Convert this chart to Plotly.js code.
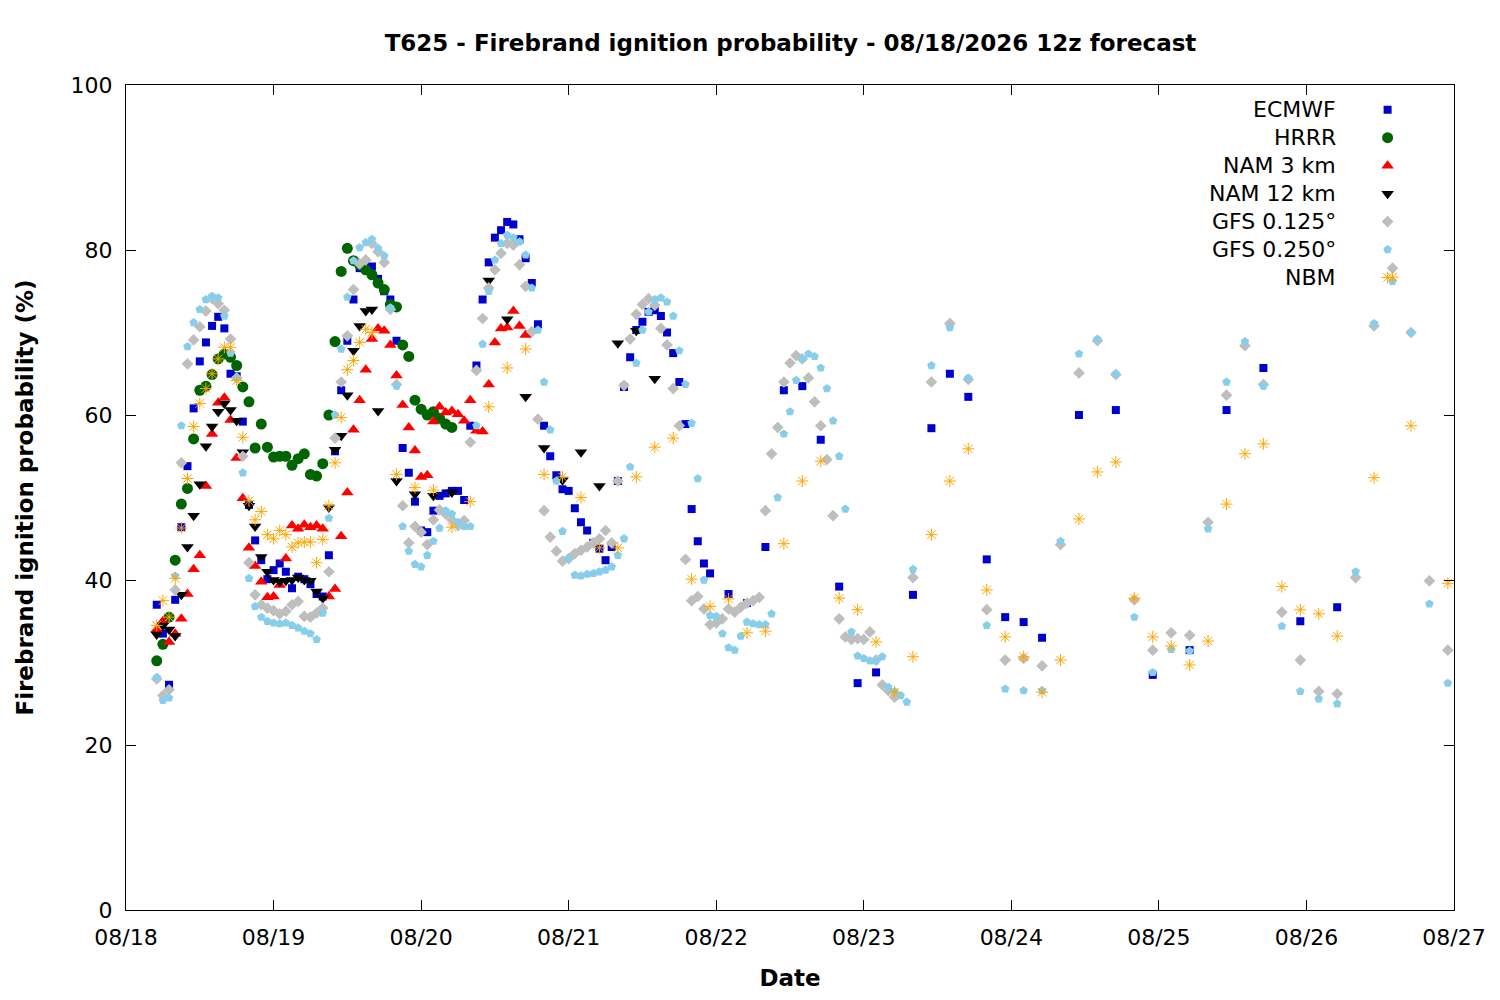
<!DOCTYPE html>
<html>
<head>
<meta charset="utf-8">
<script src="https://cdn.plot.ly/plotly-3.0.1.min.js"></script>
<style>body{margin:0;background:#fff}#plot{width:1500px;height:1000px}</style>
</head>
<body>
<div id="plot"></div>
<script>
// hours since 08/18 00 local; hourly blocks start at hour 5
const dayLabels = ["08/18", "08/19", "08/20", "08/21", "08/22", "08/23", "08/24", "08/25", "08/26", "08/27"];

const ecmwfHourly = [37, 33.5, 27.3, 37.6, 46.4, 53.8, 60.8, 66.5, 68.8, 70.8, 71.9, 70.5, 65, 64.7, 59.2, 49.1, 44.8, 42.4, 40.1, 41.2,
  42, 41, 39, 40.4, 40.1, 39.5, 38.3, 38, 43, 55.6, 63, 69, 74, 77.8, 78, 78, 76.5, 75, 74, 69, 56, 53, 49.5, 46, 45.8,
  48.4, 50.2, 50.5, 50.8, 50.8, 49.7, 58.7, 66, 74, 78.5, 81.5, 82.4, 83.4, 83.1, 81.3, 79, 76, 71, 58.7, 55, 52.7, 51,
  50.8, 48.7, 47, 46, 44.5, 43.8, 42.4, 44, 52, 63.4, 67, 70.3, 71.3, 72.5, 72.7, 72, 70, 67.5, 64, 58.9, 48.6, 44.7, 42, 40.8];
const ecmwfLateHours = [98, 101, 104, 107, 110, 113, 116, 119, 122, 128, 131, 134, 137, 140, 143, 146, 149, 155, 161, 167, 173, 179, 185, 191, 197];
const ecmwfLate = [38.3, 37.2, 44, 63, 63.5, 57, 39.2, 27.5, 28.8, 38.2, 58.4, 65, 62.2, 42.5, 35.5, 34.9, 33, 60, 60.6, 28.5, 31.5, 60.6, 65.7, 35, 36.7];

const hrrr = [30.2, 32.2, 35.5, 42.4, 49.2, 51.1, 57.1, 63, 63.5, 64.9, 66.8, 67.4, 67, 66, 63.4, 61.6, 56, 58.9, 56.1, 54.9,
  55, 55, 53.9, 54.7, 55.3, 52.8, 52.6, 54.1, 60, 68.9, 77.4, 80.2, 78.7, 78.2, 77.6, 77, 76, 75.2, 73.4, 73.1, 68.5,
  67.1, 61.8, 60.7, 60, 60.4, 59.6, 58.9, 58.5];

const nam3 = [34, 35, 32.5, 33.5, 35.3, 38.3, 41.3, 43, 51.4, 57.7, 61.5, 62.1, 59.4, 54.8, 49.9, 43.9, 41.7, 39.8, 37.9, 38,
  39.4, 42.6, 46.6, 46.2, 46.7, 46.4, 46.6, 46.2, 38, 38.9, 45.3, 50.6, 58.2, 61.8, 65.5, 69.2, 70.5, 70.2, 68.5, 64.8,
  61.2, 58.5, 55.7, 52.5, 52.7, 59.2, 61, 60.3, 60.5, 60.1, 59.3, 61.8, 58.1, 58, 63.7, 68.8, 70.5, 70.6, 72.6, 70.8, 69.7];

const nam12Hourly = [33.4, 34.5, 34, 33.2, 38.2, 44, 47.8, 51.6, 56.2, 58.6, 60.4, 61.4, 60.6, 59.3, 55.5, 49, 46.5, 42.8, 41, 40,
  39.8, 39.9, 40, 40.3, 40, 39.9, 38.6, 37.8, 48.8, 55.8, 57.5, 62.4, 67.8, 70.8, 72.6, 72.8, 60.5];
const nam12LateHours = [44, 47, 50, 53, 59, 62, 65, 68, 71, 74, 77, 80, 83, 86];
const nam12Late = [52, 50.4, 50.2, 50.6, 76.3, 71.6, 62.2, 56, 52.1, 55.5, 51.4, 68.7, 70.2, 64.4];

const gfs125Hourly = [28, 26, 26.7, 38.8, 54.2, 66.2, 69.1, 70.7, 72.6, 74.1, 73.5, 72.7, 69.2, 64.5, 55, 42.1, 38.2, 37, 36.6, 36.3,
  35.9, 36.2, 37, 37.4, 35.6, 35.5, 36, 36.6, 41, 57.2, 64, 69.6, 75.2, 78.3, 78.8, 80.8, 79.8, 78.5, 72.8, 63.7, 49,
  44.5, 46.5, 45.8, 44.3, 47.3, 48.5, 48, 47.3, 46.6, 47.2, 56.7, 65.4, 71.7, 75.4, 77.6, 79.6, 80.8, 80.6, 78.2, 75.6,
  70.1, 59.5, 48.4, 45.2, 43.5, 42.3, 42.6, 43.2, 43.6, 44, 44.5, 45, 46, 44.5, 52, 63.6, 69.2, 72.2, 73.4, 74.1, 73.3,
  70.5, 68.5, 63.2, 58.7, 42.5, 37.5, 38, 36.5, 34.6, 34.8, 35.3, 36.5, 36.1, 36.7, 37.2, 37.5, 37.9, 48.4, 55.3, 58.5,
  64, 66.3, 67.2, 66.8, 64.5, 61.6, 58.7, 54.6, 47.8, 35.3, 33.1, 32.8, 32.9, 32.8, 33.7, 30.3, 27.3, 26.6, 25.8];
const gfsLateHours = [128, 131, 134, 137, 140, 143, 146, 149, 152, 155, 158, 161, 164, 167, 170, 173, 176, 179, 182, 185, 188, 191, 194, 197, 200, 203, 206, 209, 212, 215];
const gfs125Late = [40.3, 64, 71.1, 64.3, 36.4, 30.3, 30.5, 29.6, 44.3, 65.1, 69, 64.9, 37.6, 31.5, 33.6, 33.3, 47, 62.4, 68.4, 63.7,
  36.1, 30.3, 26.5, 26.2, 40.3, 70.8, 77.8, 70, 39.9, 31.5];

const gfs250Hourly = [28.2, 25.4, 25.7, 40.5, 58.7, 68.3, 71.2, 72.8, 74, 74.4, 74.2, 72, 67.5, 64.5, 53, 40.2, 36.8, 35.5, 35, 34.8,
  34.7, 34.8, 34.5, 34.2, 33.8, 33.5, 32.8, 36, 47.5, 60, 68, 74.3, 78.7, 80.3, 80.9, 81.3, 80.2, 79.3, 73, 63.5, 46.5,
  43.5, 41.9, 41.6, 43, 44.7, 46.3, 48.4, 48, 47, 46.5, 46.5, 58.7, 68.6, 75, 78.8, 80.8, 81.8, 81.5, 81, 79.4, 75.4,
  70.3, 64, 58.2, 52, 45.9, 42.6, 40.6, 40.5, 40.7, 40.8, 41, 41.2, 41.6, 43, 45, 53.7, 66.3, 70.3, 72.5, 74, 74.2, 73.7,
  72, 67.8, 63.7, 59, 52.3, 40, 35.7, 35.6, 33.5, 31.8, 31.5, 33.2, 34.9, 34.7, 34.6, 34.6, 35.9, 50, 57.7, 60.4, 64.2,
  66.8, 67.4, 67.1, 65.7, 63.2, 59.3, 55, 48.6, 33.7, 30.8, 30.5, 30.2, 30.2, 30.7, 27, 26.5, 26, 25.2];
const gfs250Late = [41.3, 66, 70.6, 64.5, 34.5, 26.8, 26.6, 26.6, 44.7, 67.4, 69.2, 65, 35.5, 28.8, 31.6, 31.4, 46.2, 64, 68.9, 63.5,
  34.4, 26.5, 25.6, 25, 41, 71.1, 76.2, 70, 37.1, 27.5];

const nbmHourly = [34.5, 37.5, 35.5, 40.2, 46.3, 52.3, 58.6, 61.4, 63.2, 65, 66.8, 68.2, 68.2, 64.2, 57.3, 49.6, 47.3, 48.3, 45.5, 45,
  46, 45.5, 44, 44.5, 44.6, 44.6, 42.1, 44.9, 49, 54.2, 59.7, 65.5, 66.6, 68.8, 70.4, 70];
const nbmLateHours = [44, 47, 50, 53, 56, 59, 62, 65, 68, 71, 74, 77, 80, 83, 86, 89, 92, 95, 98, 101, 104, 107, 110, 113, 116, 119, 122, 125,
  128, 131, 134, 137, 140, 143, 146, 149, 152, 155, 158, 161, 164, 167, 170, 173, 176, 179, 182, 185, 188, 191, 194, 197, 203, 206, 209, 215];
const nbmLate = [52.8, 51.2, 50.9, 46.4, 49.5, 61, 65.7, 68, 52.8, 52.5, 50, 43.9, 43.9, 52.5, 56.1, 57.2, 40.1, 36.8, 37.7, 33.6, 33.8,
  44.4, 52, 54.4, 37.8, 36.4, 32.5, 26.4, 30.7, 45.5, 52, 55.9, 38.8, 33.1, 30.7, 26.4, 30.3, 47.4, 53.1, 54.3, 37.8, 33.1, 32,
  29.7, 32.6, 49.2, 55.3, 56.5, 39.2, 36.4, 35.9, 33.2, 52.4, 76.7, 58.7, 39.6];

function hourly(start, n) {
  const h = [];
  for (let i = 0; i < n; i++) h.push(start + i);
  return h;
}

const styles = [
  { name: "ECMWF", symbol: "square", color: "#0000cc", size: 8 },
  { name: "HRRR", symbol: "circle", color: "#006400", size: 11 },
  { name: "NAM 3 km", symbol: "triangle-up", color: "#ff0000", size: 11 },
  { name: "NAM 12 km", symbol: "triangle-down", color: "#000000", size: 11 },
  { name: "GFS 0.125°", symbol: "diamond", color: "#bebebe", size: 9 },
  { name: "GFS 0.250°", symbol: "pentagon", color: "#87ceeb", size: 9 },
  { name: "NBM", symbol: "asterisk-open", color: "#ffa500", size: 10, outline: true }
];

const seriesX = [
  hourly(5, ecmwfHourly.length).concat(ecmwfLateHours),
  hourly(5, hrrr.length),
  hourly(5, nam3.length),
  hourly(5, nam12Hourly.length).concat(nam12LateHours),
  hourly(5, gfs125Hourly.length).concat(gfsLateHours),
  hourly(5, gfs250Hourly.length).concat(gfsLateHours),
  hourly(5, nbmHourly.length).concat(nbmLateHours)
];
const seriesY = [
  ecmwfHourly.concat(ecmwfLate), hrrr, nam3, nam12Hourly.concat(nam12Late),
  gfs125Hourly.concat(gfs125Late), gfs250Hourly.concat(gfs250Late), nbmHourly.concat(nbmLate)
];

function markerOf(s) {
  return { symbol: s.symbol, color: s.color, size: s.size, line: { width: s.outline ? 1 : 0, color: s.color } };
}

const data = styles.map((s, i) => ({
  x: seriesX[i], y: seriesY[i], name: s.name, type: "scatter", mode: "markers", marker: markerOf(s), showlegend: false
}));

// gnuplot-style key: label right-aligned, symbol to its right
const keyTop = 0.97, keyStep = 0.0339, keyTextX = 0.9127, keySymX = 0.950;
const annotations = [];
styles.forEach((s, i) => {
  const ky = keyTop - i * keyStep;
  data.push({
    x: [keySymX], y: [ky], xaxis: "x2", yaxis: "y2", type: "scatter", mode: "markers",
    marker: markerOf(s), showlegend: false, hoverinfo: "skip"
  });
  annotations.push({
    xref: "paper", yref: "paper", x: keyTextX, y: ky, xanchor: "right", yanchor: "middle",
    text: s.name, showarrow: false, font: { size: 22 }
  });
});

const tickVals = dayLabels.map((d, i) => i * 24);
const font = "DejaVu Sans, sans-serif";

const layout = {
  width: 1500, height: 1000,
  paper_bgcolor: "#ffffff", plot_bgcolor: "#ffffff",
  margin: { l: 126, r: 46, t: 85, b: 90 },
  font: { family: font, color: "#000", size: 22 },
  title: { text: "<b>T625 - Firebrand ignition probability - 08/18/2026 12z forecast</b>", x: 0.527, xanchor: "center", y: 0.957, yanchor: "middle", font: { size: 23, family: font } },
  xaxis: {
    range: [0, 216], tickvals: tickVals, ticktext: dayLabels, ticks: "inside", ticklen: 10, tickcolor: "#000",
    showline: true, linecolor: "#000", linewidth: 1, mirror: "ticks", showgrid: false, zeroline: false,
    ticklabelstandoff: 8,
    title: { text: "<b>Date</b>", font: { size: 23 }, standoff: 20 }, tickfont: { size: 22 }
  },
  yaxis: {
    range: [0, 100], dtick: 20, ticks: "inside", ticklen: 10, tickcolor: "#000",
    showline: true, linecolor: "#000", linewidth: 1, mirror: "ticks", showgrid: false, zeroline: false,
    ticklabelstandoff: 8,
    title: { text: "<b>Firebrand ignition probability (%)</b>", font: { size: 23 }, standoff: 30 }, tickfont: { size: 22 }
  },
  xaxis2: { overlaying: "x", range: [0, 1], visible: false, fixedrange: true },
  yaxis2: { overlaying: "y", range: [0, 1], visible: false, fixedrange: true },
  annotations: annotations,
  showlegend: false
};

Plotly.newPlot("plot", data, layout, { displayModeBar: false, staticPlot: true });
</script>
</body>
</html>
